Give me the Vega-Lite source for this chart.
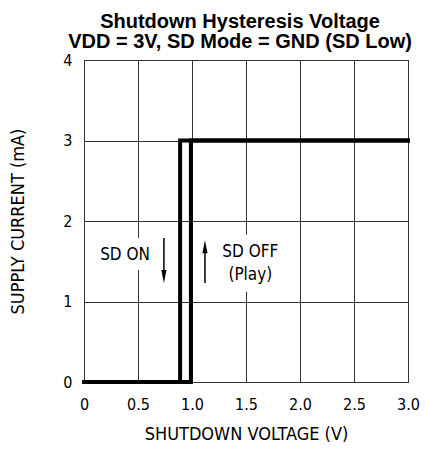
{
  "$schema": "https://vega.github.io/schema/vega-lite/v6.json",
  "autosize": "none",
  "width": 324,
  "height": 322,
  "padding": {"left": 84, "top": 60, "right": 17, "bottom": 69},
  "background": "white",
  "config": {
    "view": {"stroke": "#222", "strokeWidth": 1},
    "font": "DejaVu Sans Condensed"
  },
  "title": {
    "text": ["Shutdown Hysteresis Voltage", "VDD = 3V, SD Mode = GND (SD Low)"],
    "font": "Liberation Sans",
    "fontSize": 20,
    "fontWeight": "bold",
    "lineHeight": 20,
    "color": "black",
    "anchor": "middle",
    "dx": -6,
    "offset": 0
  },
  "datasets": {
    "curve": [
      {"dir": "off", "seq": 1, "v": 0, "i": 0},
      {"dir": "off", "seq": 2, "v": 0.99, "i": 0},
      {"dir": "off", "seq": 3, "v": 0.99, "i": 3},
      {"dir": "off", "seq": 4, "v": 3.0, "i": 3},
      {"dir": "on", "seq": 1, "v": 3.0, "i": 3},
      {"dir": "on", "seq": 2, "v": 0.89, "i": 3},
      {"dir": "on", "seq": 3, "v": 0.89, "i": 0},
      {"dir": "on", "seq": 4, "v": 0, "i": 0}
    ],
    "masks": [
      {"x1": 0.12, "x2": 0.64, "y1": 1.39, "y2": 1.79},
      {"x1": 1.28, "x2": 1.85, "y1": 1.12, "y2": 1.83}
    ],
    "labels": [
      {"x": 0.38, "y": 1.58, "t": "SD ON"},
      {"x": 1.54, "y": 1.61, "t": "SD OFF"},
      {"x": 1.54, "y": 1.33, "t": "(Play)"}
    ],
    "arrows": [
      {"x": 0.74, "y1": 1.79, "y2": 1.3, "hy": 1.31, "shape": "M-0.4,-1L0.4,-1L0,1Z"},
      {"x": 1.12, "y1": 1.23, "y2": 1.7, "hy": 1.68, "shape": "M-0.4,1L0.4,1L0,-1Z"}
    ]
  },
  "layer": [
    {
      "data": {"name": "masks"},
      "mark": {"type": "rect", "fill": "white", "stroke": null},
      "encoding": {
        "x": {"field": "x1", "type": "quantitative",
          "scale": {"domain": [0, 3]},
          "axis": {
            "values": [0, 0.5, 1, 1.5, 2, 2.5, 3],
            "labelExpr": "datum.value === 0 ? '0' : format(datum.value, '.1f')",
            "labelFlush": false,
            "title": "SHUTDOWN VOLTAGE (V)",
            "grid": true, "gridColor": "#333", "gridOpacity": 1, "gridWidth": 1,
            "domain": false, "ticks": false,
            "labelFont": "DejaVu Sans Condensed", "labelFontSize": 16, "labelColor": "black",
            "labelPadding": 14,
            "titleFont": "DejaVu Sans Condensed", "titleFontSize": 18, "titleFontWeight": "normal",
            "titleColor": "black", "titlePadding": 13
          }
        },
        "x2": {"field": "x2"},
        "y": {"field": "y1", "type": "quantitative",
          "scale": {"domain": [0, 4]},
          "axis": {
            "values": [0, 1, 2, 3, 4],
            "format": "d",
            "labelFlush": false,
            "title": "SUPPLY CURRENT (mA)",
            "grid": true, "gridColor": "#333", "gridOpacity": 1, "gridWidth": 1,
            "domain": false, "ticks": false,
            "labelFont": "DejaVu Sans Condensed", "labelFontSize": 16, "labelColor": "black",
            "labelPadding": 12,
            "titleFont": "DejaVu Sans Condensed", "titleFontSize": 18, "titleFontWeight": "normal",
            "titleColor": "black", "titlePadding": 35
          }
        },
        "y2": {"field": "y2"}
      }
    },
    {
      "data": {"name": "curve"},
      "mark": {"type": "line", "color": "black", "strokeWidth": 4, "strokeCap": "square", "strokeJoin": "miter"},
      "encoding": {
        "x": {"field": "v", "type": "quantitative"},
        "y": {"field": "i", "type": "quantitative"},
        "detail": {"field": "dir"},
        "order": {"field": "seq", "type": "quantitative"}
      }
    },
    {
      "data": {"name": "labels"},
      "mark": {"type": "text", "font": "DejaVu Sans Condensed", "fontSize": 17, "color": "black", "align": "center", "baseline": "middle"},
      "encoding": {
        "x": {"field": "x", "type": "quantitative"},
        "y": {"field": "y", "type": "quantitative"},
        "text": {"field": "t"}
      }
    },
    {
      "data": {"name": "arrows"},
      "mark": {"type": "rule", "color": "black", "strokeWidth": 1.5},
      "encoding": {
        "x": {"field": "x", "type": "quantitative"},
        "y": {"field": "y1", "type": "quantitative"},
        "y2": {"field": "y2"}
      }
    },
    {
      "data": {"name": "arrows"},
      "mark": {"type": "point", "filled": true, "color": "black", "opacity": 1, "size": 169, "strokeWidth": 0},
      "encoding": {
        "x": {"field": "x", "type": "quantitative"},
        "y": {"field": "hy", "type": "quantitative"},
        "shape": {"field": "shape", "type": "nominal", "scale": null, "legend": null}
      }
    }
  ]
}
